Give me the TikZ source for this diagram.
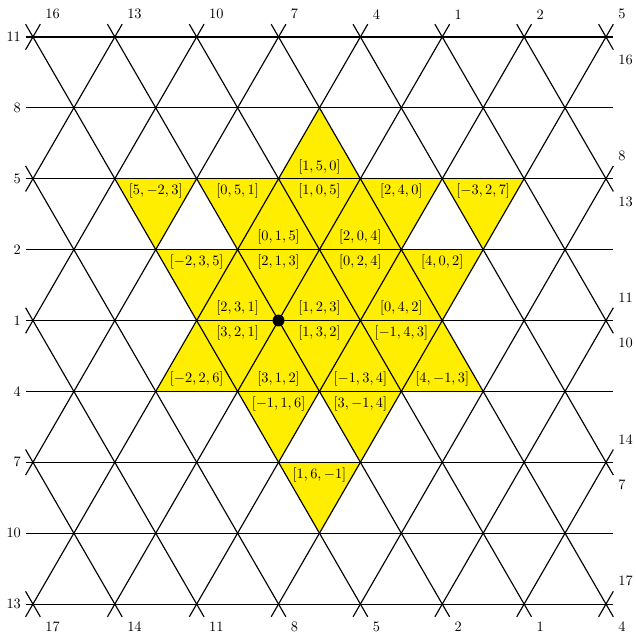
\documentclass[tikz,border=0pt]{standalone}
\usepackage{amsmath}
\usetikzlibrary{calc}
\definecolor{cellyellow}{RGB}{255,238,0}
\tikzset{
  gridline/.style={thick, line cap=butt},
  cellfill/.style={fill=cellyellow, draw=none},
  celltag/.style={font=\normalsize, inner sep=3.33pt},
  edgetag/.style={font=\normalsize, inner sep=3.33pt},
  origindot/.style={circle, fill=black, inner sep=0pt, minimum size=0.29cm}
}
\def\h{1.7320508}
\def\ext{0.36}

\begin{document}
\begin{tikzpicture}[x=1cm, y=1cm]
  \useasboundingbox (-0.805,-14.661) rectangle (14.73,0.902);

  % yellow cells pointing down (top edge on row \j, left end at \a)
  \foreach \a/\j/\lab in {2/2/{[5,-2,3]}, 4/2/{[0,5,1]}, 6/2/{[1,0,5]}, 8/2/{[2,4,0]}, 10/2/{[-3,2,7]},
                          3/3/{[-2,3,5]}, 5/3/{[2,1,3]}, 7/3/{[0,2,4]}, 9/3/{[4,0,2]},
                          4/4/{[3,2,1]}, 6/4/{[1,3,2]}, 8/4/{[-1,4,3]},
                          5/5/{[-1,1,6]}, 7/5/{[3,-1,4]},
                          6/6/{[1,6,-1]}} {
    \fill[cellfill] (\a,{-\j*\h}) -- ++(2,0) -- ++(-1,-\h) -- cycle;
    \node[celltag, below] (dn-\a-\j) at ({\a+1},{-\j*\h}) {$\lab$};
  }

  % yellow cells pointing up (apex at \a on row \j)
  \foreach \a/\j/\lab in {7/1/{[1,5,0]},
                          6/2/{[0,1,5]}, 8/2/{[2,0,4]},
                          5/3/{[2,3,1]}, 7/3/{[1,2,3]}, 9/3/{[0,4,2]},
                          4/4/{[-2,2,6]}, 6/4/{[3,1,2]}, 8/4/{[-1,3,4]}, 10/4/{[4,-1,3]}} {
    \fill[cellfill] (\a,{-\j*\h}) -- ++(1,-\h) -- ++(-2,0) -- cycle;
    \node[celltag, above] (up-\a-\j) at (\a,{-(\j+1)*\h}) {$\lab$};
  }

  % horizontal lines
  \foreach \j/\lab in {0/11, 1/8, 2/5, 3/2, 4/1, 5/4, 6/7, 7/10, 8/13} {
    \coordinate (hl-\j) at (-0.17,{-\j*\h});
    \coordinate (hr-\j) at (14.16,{-\j*\h});
    \draw[gridline] (hl-\j) -- (hr-\j);
    \node[edgetag, left] (row-\j) at (hl-\j) {\lab};
  }

  % lines going up to the right
  \foreach \c/\lab in {0/16, 2/13, 4/10, 6/7, 8/4, 10/1, 12/2, 14/5, 16/8, 18/11, 20/14, 22/17} {
    \pgfmathtruncatemacro\jlo{max(0,\c-14)}
    \pgfmathtruncatemacro\jhi{min(8,\c)}
    \coordinate (ru-\c) at ($({\c-\jlo},{-\jlo*\h})+(60:\ext)$);
    \coordinate (rd-\c) at ($({\c-\jhi},{-\jhi*\h})+(240:\ext)$);
    \draw[gridline] (rd-\c) -- (ru-\c);
    \node[edgetag, above right] (rt-\c) at (ru-\c) {\lab};
  }

  % lines going down to the right
  \foreach \d/\lab in {-8/17, -6/14, -4/11, -2/8, 0/5, 2/2, 4/1, 6/4, 8/7, 10/10, 12/13, 14/16} {
    \pgfmathtruncatemacro\jlo{max(0,-\d)}
    \pgfmathtruncatemacro\jhi{min(8,14-\d)}
    \coordinate (fu-\d) at ($({\d+\jlo},{-\jlo*\h})+(120:\ext)$);
    \coordinate (fd-\d) at ($({\d+\jhi},{-\jhi*\h})+(-60:\ext)$);
    \draw[gridline] (fu-\d) -- (fd-\d);
    \node[edgetag, below right] (ft-\d) at (fd-\d) {\lab};
  }

  \node[origindot] (origin) at (6,{-4*\h}) {};
\end{tikzpicture}
\end{document}
